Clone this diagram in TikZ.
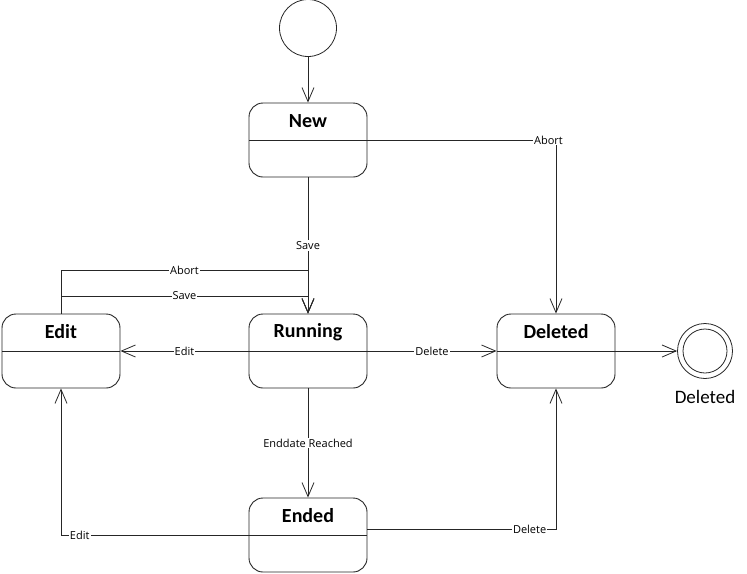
\documentclass[tikz,border=0pt]{standalone}
\usepackage{fontspec}
\setmainfont{Carlito}
\newfontfamily\guardfont{Open Sans}
\usetikzlibrary{arrows.meta}

\tikzset{
  statebox/.style={draw=black!85, line width=0.9pt, rounded corners=14pt,
    minimum width=118pt, minimum height=74pt, inner sep=0pt,
    path picture={\draw[black!85, line width=0.9pt] (path picture bounding box.west) -- (path picture bounding box.east);}},
  statetitle/.style={font=\bfseries\fontsize{20}{23}\selectfont, yshift=19pt},
  trans/.style={draw=black!85, line width=0.8pt,
    -{Straight Barb[length=14pt, width=12pt, line width=0.8pt]}},
  guard/.style={font=\guardfont\fontsize{11}{13}\selectfont, fill=white, inner sep=1pt},
}

\begin{document}
\begin{tikzpicture}[x=1pt,y=-1pt]
    \useasboundingbox[fill=white] (0,0) rectangle (747,573);
    % initial and final states
    \node[circle, draw=black!85, line width=0.8pt, minimum size=57pt] (init) at (308,28) {};
    \node[circle, draw=black!85, line width=0.8pt, minimum size=55pt,
          label={[font=\fontsize{19}{22}\selectfont, label distance=8pt]below:Deleted}] (final) at (705,351) {};
    \node[circle, draw=black!85, line width=0.8pt, minimum size=44pt] (finalin) at (final) {};
    % states
    \node[statebox, label={[statetitle]center:New}] (new) at (308,140) {};
    \node[statebox, label={[statetitle]center:Running}] (running) at (308,351) {};
    \node[statebox, label={[statetitle]center:Edit}] (edit) at (61,351) {};
    \node[statebox, label={[statetitle]center:Deleted}] (deleted) at (556,351) {};
    \node[statebox, label={[statetitle]center:Ended}] (ended) at (308,535) {};
    \coordinate (abortbend) at (308,270);
    \coordinate (savebend) at (308,296);
    % transitions
    \draw[trans] (init) -- (new);
    \draw[trans] (new.east) -| node[guard, pos=0.48] {Abort} (deleted.north);
    \draw[trans] (new) -- node[guard] {Save} (running);
    \draw[trans] (edit.north) |- node[guard, pos=0.75] {Abort} (abortbend) -- (running.north);
    \draw[trans] (edit.north) |- node[guard, pos=0.75] {Save} (savebend) -- (running.north);
    \draw[trans] (running.west) -- node[guard] {Edit} (edit.east);
    \draw[trans] (running.east) -- node[guard] {Delete} (deleted.west);
    \draw[trans] (deleted.east) -- (final);
    \draw[trans] (running) -- node[guard] {Enddate Reached} (ended);
    \draw[trans] (ended.west) -| node[guard, pos=0.45] {Edit} (edit.south);
    \draw[trans] ([yshift=6pt]ended.east) -| node[guard, pos=0.43] {Delete} (deleted.south);
\end{tikzpicture}
\end{document}
